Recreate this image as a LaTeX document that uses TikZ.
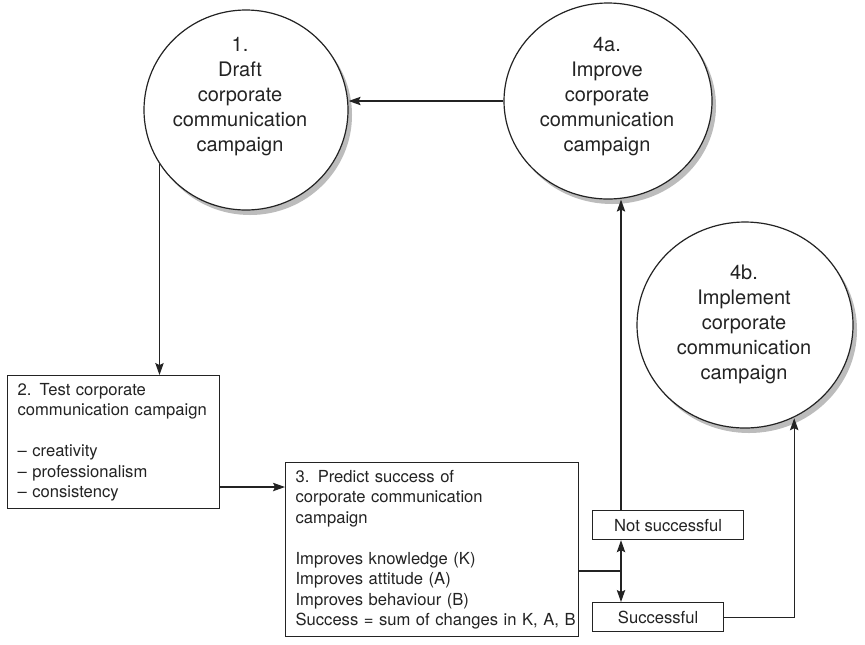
\documentclass[tikz,border=0pt]{standalone}
\usepackage{fontspec}
\setmainfont{TeX Gyre Heros}
\usetikzlibrary{arrows.meta,calc,positioning,shapes.geometric,shadows}
\definecolor{cmink}{RGB}{35,35,35}
\definecolor{cmshadow}{RGB}{188,188,188}

\begin{document}
\begin{tikzpicture}[x=.5pt,y=-.5pt,line width=.6pt,color=cmink,
    bubble/.style={ellipse,draw,fill=white,
      drop shadow={shadow xshift=2pt,shadow yshift=-2.5pt,fill=cmshadow,opacity=1}},
    bubtext/.style={align=center,font=\fontsize{10}{12.5}\selectfont},
    card/.style={draw,fill=white,anchor=north west,align=left,inner xsep=5pt,inner ysep=2pt,
      font=\fontsize{8.3}{10.25}\selectfont},
    tag/.style={draw,fill=white,anchor=north west,inner sep=0pt,
      font=\fontsize{8.3}{10.25}\selectfont},
    >={Stealth[length=6pt,width=4.2pt,inset=1pt]}]
  \useasboundingbox (0,0) rectangle (865,644);
  % the three bubbles
  \node[bubble,minimum width=102pt,minimum height=100pt] (draft) at (246,110) {};
  \node[bubtext] (drafttxt) at (240,97) {1.\\Draft\\corporate\\communication\\campaign};
  \node[bubble,minimum width=104pt,minimum height=98pt] (improve) at (608,101) {};
  \node[bubtext] (improvetxt) at (607,97) {4a.\\Improve\\corporate\\communication\\campaign};
  \node[bubble,minimum width=108pt,minimum height=103pt] (implement) at (745,325) {};
  \node[bubtext] (implementtxt) at (744,324) {4b.\\Implement\\corporate\\communication\\campaign};
  % boxes
  \node[card,text width=96pt,minimum height=66.5pt] (testbox) at (7,375)
    {2. Test corporate\\communication campaign\\[10.25pt]-- creativity\\-- professionalism\\-- consistency};
  \node[card,text width=136.5pt,minimum height=87pt] (predict) at (285,462)
    {3. Predict success of\\corporate communication\\campaign\\[10.25pt]Improves knowledge (K)\\Improves attitude (A)\\Improves behaviour (B)\\\mbox{Success = sum of changes in K, A, B}};
  \node[tag,minimum width=75.5pt,minimum height=14.5pt] (notbox) at (592,510) {Not successful};
  \node[tag,minimum width=65.5pt,minimum height=14.5pt] (okbox) at (592,602) {Successful};
  % connectors
  \coordinate (entry) at ([yshift=-12.5pt]predict.north west);
  \coordinate (split) at (621,571);
  \draw[->] (draft.212) -- (draft.212 |- testbox.north);
  \draw[->] (improve.west) -- (improve.west -| draft.east);
  \draw[->] (entry -| testbox.east) -- (entry);
  \draw (split -| predict.east) -- (split);
  \draw[->] (split) -- (split |- notbox.south);
  \draw[->] (split) -- (split |- okbox.north);
  \draw[->] (split |- notbox.north) -- (split |- improve.south);
  \draw[->] (okbox.east) -- ++(35pt,0) coordinate (turn) -- (turn |- implement.297);
\end{tikzpicture}
\end{document}
